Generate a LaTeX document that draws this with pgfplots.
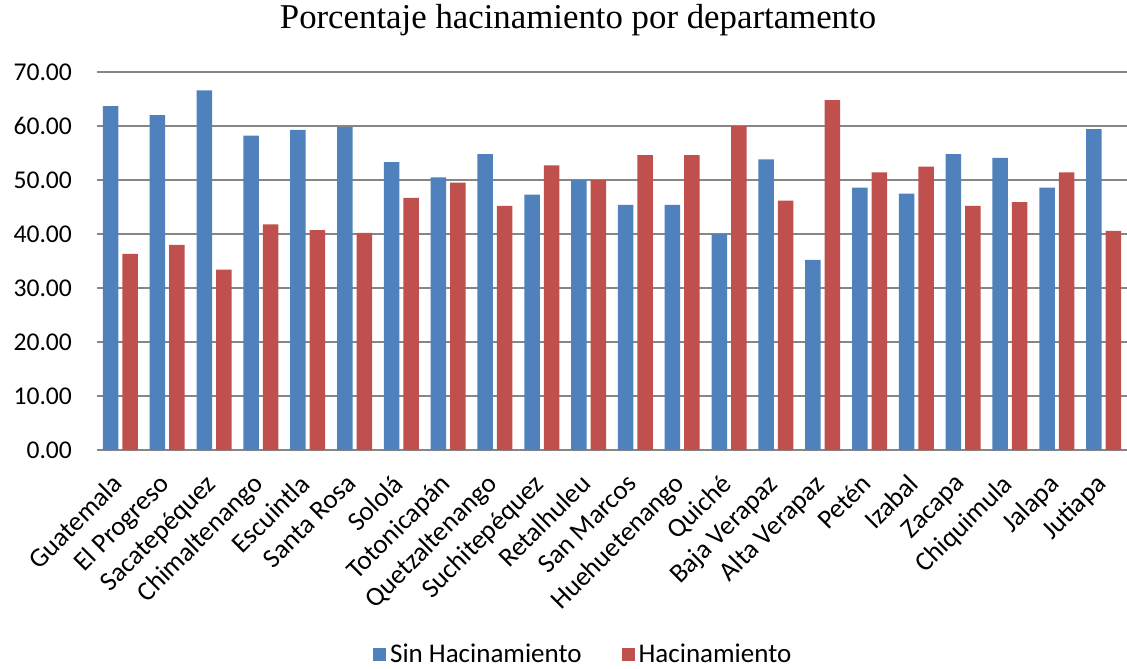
\documentclass[border=0pt]{standalone}
\usepackage{pgfplots}
\usepackage{pgfplotstable}
\pgfplotsset{compat=1.18}
\usepackage{fontspec}
\setmainfont{Carlito}
\newfontfamily\titlefont{Liberation Serif}
\definecolor{sinblue}{HTML}{4F81BD}
\definecolor{hacred}{HTML}{C0504D}
\definecolor{gridgray}{HTML}{868686}

% idx = department order, sin = sin hacinamiento, hac = hacinamiento (percent)
\pgfplotstableread{
idx sin  hac
0   63.7 36.3
1   62.0 38.0
2   66.6 33.4
3   58.2 41.8
4   59.3 40.7
5   59.8 40.2
6   53.3 46.7
7   50.5 49.5
8   54.8 45.2
9   47.3 52.7
10  50.0 50.0
11  45.4 54.6
12  45.4 54.6
13  40.0 60.0
14  53.8 46.2
15  35.2 64.8
16  48.6 51.4
17  47.5 52.5
18  54.8 45.2
19  54.1 45.9
20  48.6 51.4
21  59.4 40.6
}\deptdata

\begin{document}
\begin{tikzpicture}
\begin{axis}[
  at={(48.5pt,109pt)},
  width=515pt, height=189pt, scale only axis,
  ybar=2pt, bar width=7.75pt,
  xmin=-0.5, xmax=21.5, ymin=0, ymax=70,
  ytick={0,10,...,70},
  xtick={0,...,21},
  xticklabels={Guatemala, El Progreso, Sacatepéquez, Chimaltenango, Escuintla,
    Santa Rosa, Sololá, Totonicapán, Quetzaltenango, Suchitepéquez, Retalhuleu,
    San Marcos, Huehuetenango, Quiché, Baja Verapaz, Alta Verapaz, Petén,
    Izabal, Zacapa, Chiquimula, Jalapa, Jutiapa},
  xticklabel style={xshift=-4.8pt, yshift=-11pt, rotate=45, anchor=north east,
    inner sep=0pt, font=\fontsize{13.5}{16}\selectfont},
  yticklabel style={font=\fontsize{12.8}{15}\selectfont, xshift=-9pt,
    /pgf/number format/.cd, fixed, fixed zerofill, precision=2, assume math mode=true},
  axis x line*=bottom, axis y line*=left,
  y axis line style={draw=none},
  x axis line style={gridgray, line width=0.9pt},
  major tick length=0pt,
  ymajorgrids, grid style={gridgray, line width=0.9pt},
  legend style={at={(0.473,-0.542)}, anchor=center, legend columns=2, draw=none,
    font=\fontsize{13.5}{16}\selectfont,
    /tikz/every even column/.append style={column sep=18pt}},
  legend image code/.code={\fill[#1] (0pt,-3.25pt) rectangle (6.5pt,3.25pt);},
]
\addplot[fill=sinblue, draw=none] table[x=idx, y=sin] {\deptdata};
\addlegendentry{Sin Hacinamiento}
\addplot[fill=hacred, draw=none] table[x=idx, y=hac] {\deptdata};
\addlegendentry{Hacinamiento}
\end{axis}
\node[font=\titlefont\fontsize{17.4}{20}\selectfont] at (289pt,324pt)
  {Porcentaje hacinamiento por departamento};
\pgfresetboundingbox
\path (0,0) rectangle (563.5pt,334pt);
\end{tikzpicture}
\end{document}
